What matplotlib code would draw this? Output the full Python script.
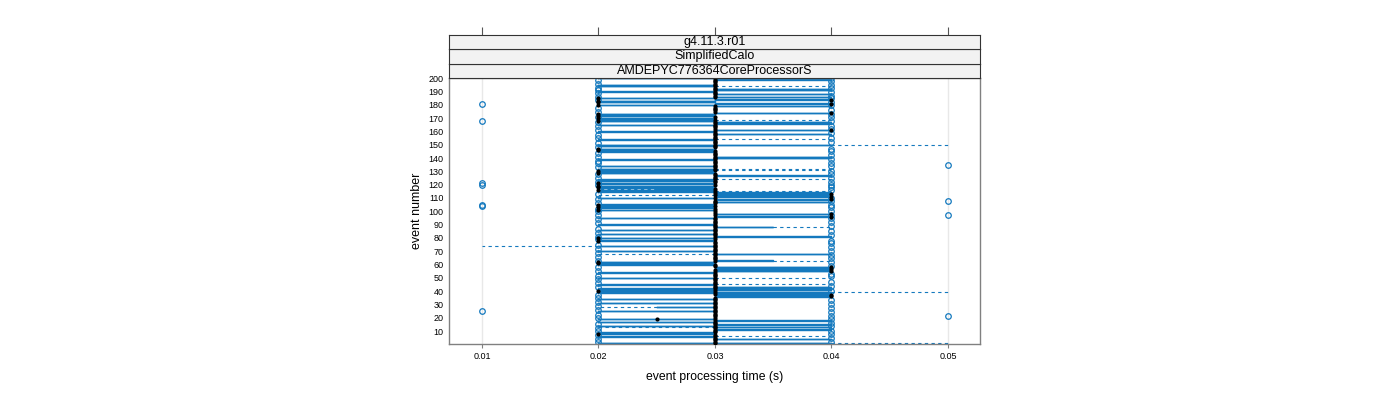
import matplotlib
matplotlib.use('Agg')
import matplotlib.pyplot as plt
import numpy as np

plt.rcParams['font.family'] = ['Liberation Sans', 'DejaVu Sans']

# per-event box summaries, in ms (event number = index + 1)
q1_ms = [
    20, 30, 30, 30, 30, 20, 30, 20, 20, 30,  30, 30, 30, 20, 30, 30, 20, 30, 20, 30,
    30, 30, 30, 30, 20, 30, 30, 25, 30, 30,  20, 30, 30, 20, 30, 30, 30, 30, 20, 20,
    20, 20, 30, 30, 20, 30, 30, 30, 30, 20,  30, 30, 30, 20, 30, 30, 30, 30, 30, 20,
    20, 20, 30, 30, 30, 30, 30, 30, 30, 20,  30, 30, 30, 20, 30, 30, 30, 20, 30, 20,
    30, 30, 20, 30, 30, 20, 30, 30, 30, 20,  30, 30, 30, 30, 20, 30, 30, 30, 30, 30,
    20, 30, 20, 20, 20, 30, 30, 30, 30, 20,  30, 30, 30, 30, 20, 20, 25, 20, 20, 30,
    20, 30, 20, 20, 30, 30, 30, 30, 20, 20,  20, 20, 30, 20, 30, 30, 30, 30, 20, 30,
    30, 30, 30, 30, 20, 20, 20, 30, 20, 20,  30, 30, 30, 20, 30, 30, 30, 30, 30, 20,
    30, 30, 30, 30, 20, 30, 30, 20, 20, 20,  30, 20, 20, 30, 30, 30, 30, 30, 30, 20,
    30, 20, 20, 30, 20, 30, 30, 30, 30, 20,  30, 30, 30, 20, 20, 30, 30, 30, 30, 20,
]
med_ms = [
    30, 30, 30, 30, 30, 30, 30, 20, 30, 30,  30, 30, 30, 30, 30, 30, 30, 30, 25, 30,
    30, 30, 30, 30, 30, 30, 30, 30, 30, 30,  30, 30, 30, 30, 30, 40, 40, 30, 30, 20,
    30, 30, 30, 30, 30, 30, 30, 30, 30, 30,  30, 30, 30, 30, 40, 30, 40, 40, 30, 30,
    20, 20, 30, 30, 30, 30, 30, 30, 30, 30,  30, 30, 30, 30, 30, 30, 30, 20, 30, 20,
    30, 30, 30, 30, 30, 30, 30, 30, 30, 30,  30, 30, 30, 30, 30, 40, 30, 40, 30, 30,
    20, 30, 20, 30, 20, 30, 30, 30, 40, 30,  40, 30, 40, 30, 30, 20, 30, 20, 20, 30,
    20, 30, 30, 30, 30, 30, 30, 30, 20, 20,  30, 30, 30, 30, 30, 30, 30, 30, 30, 30,
    30, 30, 30, 30, 30, 20, 20, 30, 30, 30,  30, 30, 30, 30, 30, 30, 30, 30, 30, 30,
    40, 30, 30, 30, 30, 30, 30, 20, 30, 20,  30, 20, 20, 40, 30, 30, 30, 30, 30, 20,
    40, 20, 20, 40, 20, 30, 30, 30, 30, 30,  30, 30, 30, 30, 30, 30, 30, 30, 30, 30,
]
q3_ms = [
    40, 30, 30, 40, 30, 30, 30, 30, 30, 30,  40, 30, 40, 30, 40, 30, 30, 40, 30, 30,
    30, 30, 30, 30, 30, 30, 30, 30, 30, 30,  30, 30, 30, 30, 30, 40, 40, 40, 40, 30,
    40, 40, 40, 30, 30, 30, 30, 30, 30, 30,  30, 30, 30, 30, 40, 40, 40, 40, 30, 30,
    30, 30, 35, 30, 30, 30, 30, 40, 30, 30,  30, 30, 30, 30, 30, 30, 30, 30, 30, 30,
    40, 30, 30, 30, 30, 30, 30, 35, 30, 30,  30, 30, 30, 30, 30, 40, 30, 40, 30, 30,
    30, 30, 30, 30, 30, 30, 40, 30, 40, 30,  40, 40, 40, 40, 30, 30, 30, 30, 30, 30,
    30, 30, 30, 30, 30, 30, 40, 30, 30, 30,  30, 30, 30, 30, 30, 30, 30, 30, 30, 40,
    40, 30, 30, 30, 30, 30, 30, 30, 30, 40,  30, 30, 30, 30, 30, 30, 30, 40, 30, 30,
    40, 30, 30, 30, 30, 40, 40, 30, 30, 30,  30, 30, 30, 40, 30, 30, 30, 30, 40, 30,
    40, 30, 30, 40, 30, 40, 30, 40, 30, 30,  40, 40, 30, 30, 30, 30, 30, 30, 40, 30,
]
whis_lo_ms = [
    20, 30, 30, 30, 30, 20, 30, 20, 20, 30,  30, 30, 20, 20, 30, 30, 20, 30, 20, 30,
    30, 30, 30, 30, 20, 30, 30, 20, 30, 30,  20, 30, 30, 20, 30, 30, 30, 30, 20, 20,
    20, 20, 30, 30, 20, 30, 30, 30, 30, 20,  30, 30, 30, 20, 30, 30, 30, 30, 30, 20,
    20, 20, 30, 30, 30, 30, 30, 20, 30, 20,  30, 30, 30, 10, 30, 30, 30, 20, 30, 20,
    30, 30, 20, 30, 30, 20, 30, 30, 30, 20,  30, 30, 30, 30, 20, 30, 30, 30, 30, 30,
    20, 30, 20, 20, 20, 30, 30, 30, 30, 20,  30, 20, 30, 30, 20, 20, 20, 20, 20, 30,
    20, 30, 20, 20, 30, 30, 30, 30, 20, 20,  20, 20, 30, 20, 30, 30, 30, 30, 20, 30,
    30, 30, 30, 30, 20, 20, 20, 30, 20, 20,  30, 30, 30, 20, 30, 30, 30, 30, 30, 20,
    30, 30, 30, 30, 20, 30, 30, 20, 20, 20,  30, 20, 20, 30, 30, 30, 30, 30, 30, 20,
    30, 20, 20, 30, 20, 30, 30, 30, 30, 20,  30, 30, 30, 20, 20, 30, 30, 30, 30, 20,
]
whis_hi_ms = [
    50, 30, 30, 40, 30, 40, 30, 30, 30, 30,  40, 30, 40, 30, 40, 30, 30, 40, 30, 30,
    30, 30, 30, 30, 30, 30, 30, 30, 30, 30,  30, 30, 30, 30, 30, 40, 40, 40, 50, 30,
    40, 40, 40, 30, 40, 30, 30, 30, 30, 40,  30, 30, 30, 30, 40, 40, 40, 40, 30, 30,
    30, 30, 40, 30, 30, 30, 30, 40, 30, 30,  30, 30, 30, 30, 30, 30, 30, 30, 30, 30,
    40, 30, 30, 30, 30, 30, 30, 40, 30, 30,  30, 30, 30, 30, 30, 40, 30, 40, 30, 30,
    30, 30, 30, 30, 30, 30, 40, 30, 40, 30,  40, 40, 40, 40, 40, 30, 30, 30, 30, 30,
    30, 30, 30, 40, 30, 30, 40, 30, 30, 30,  40, 40, 30, 30, 30, 30, 30, 30, 30, 40,
    40, 30, 30, 30, 30, 30, 30, 30, 30, 50,  30, 30, 30, 40, 30, 30, 30, 40, 30, 30,
    40, 30, 30, 30, 30, 40, 40, 30, 40, 30,  30, 30, 30, 40, 30, 30, 30, 30, 40, 30,
    40, 30, 30, 40, 30, 40, 30, 40, 30, 30,  40, 40, 30, 40, 30, 30, 30, 30, 40, 30,
]
# low / high outlier per event (0 = none)
out_lo_ms = [
    0, 20, 0, 20, 0, 0, 20, 0, 0, 20,  0, 20, 0, 0, 20, 0, 0, 0, 0, 20,
    0, 20, 0, 0, 0, 20, 0, 0, 20, 0,  0, 20, 0, 0, 20, 0, 20, 0, 0, 0,
    0, 0, 20, 0, 0, 20, 0, 0, 20, 0,  20, 0, 0, 0, 20, 0, 0, 20, 0, 0,
    0, 0, 20, 0, 0, 20, 0, 0, 20, 0,  0, 20, 0, 0, 20, 0, 0, 0, 20, 0,
    20, 0, 0, 20, 0, 0, 20, 0, 0, 0,  20, 0, 0, 20, 0, 0, 20, 0, 0, 20,
    0, 20, 0, 0, 0, 20, 0, 0, 20, 0,  0, 0, 20, 0, 0, 0, 0, 0, 0, 20,
    0, 20, 0, 0, 20, 0, 0, 20, 0, 0,  0, 0, 20, 0, 0, 20, 0, 20, 0, 0,
    20, 0, 0, 20, 0, 0, 0, 20, 0, 0,  20, 0, 0, 0, 20, 0, 20, 0, 0, 0,
    20, 0, 0, 20, 0, 0, 20, 0, 0, 0,  20, 0, 0, 0, 20, 0, 0, 20, 0, 0,
    0, 0, 0, 20, 0, 20, 0, 0, 20, 0,  20, 0, 20, 0, 0, 20, 0, 0, 20, 0,
]
out_hi_ms = [
    0, 40, 0, 0, 40, 0, 0, 40, 0, 40,  0, 0, 0, 40, 0, 40, 0, 0, 40, 0,
    40, 0, 0, 40, 0, 0, 40, 0, 0, 40,  0, 0, 40, 0, 0, 0, 0, 0, 0, 40,
    0, 0, 0, 40, 0, 0, 40, 0, 0, 0,  40, 0, 40, 0, 0, 0, 0, 0, 40, 0,
    0, 40, 0, 0, 40, 0, 40, 0, 0, 40,  0, 0, 40, 0, 0, 40, 0, 40, 0, 0,
    0, 40, 0, 0, 40, 0, 0, 0, 40, 0,  0, 40, 0, 0, 40, 0, 40, 0, 0, 40,
    0, 0, 40, 0, 40, 0, 0, 40, 0, 40,  0, 0, 0, 0, 0, 40, 0, 40, 0, 40,
    0, 40, 0, 0, 40, 0, 0, 40, 0, 40,  0, 0, 0, 40, 0, 40, 0, 0, 40, 0,
    0, 40, 0, 0, 40, 0, 40, 0, 0, 0,  0, 40, 0, 0, 40, 0, 0, 0, 40, 0,
    0, 40, 0, 40, 0, 0, 0, 40, 0, 0,  40, 0, 40, 0, 0, 40, 0, 0, 0, 40,
    0, 40, 0, 0, 40, 0, 40, 0, 0, 40,  0, 0, 40, 0, 40, 0, 0, 40, 0, 40,
]
# far outliers
far_out_event = [25, 104, 105, 120, 121, 168, 181, 21, 97, 108, 135]
far_out_ms = [10, 10, 10, 10, 10, 10, 10, 50, 50, 50, 50]

strip_labels = ['AMDEPYC776364CoreProcessorS', 'SimplifiedCalo', 'g4.11.3.r01']
x_ticks = [0.01, 0.02, 0.03, 0.04, 0.05]
y_ticks = list(range(10, 201, 10))

blue = '#1479be'

events = np.arange(1, len(q1_ms) + 1)
stats = []
for i, ev in enumerate(events):
    fl = [v for v in (out_lo_ms[i], out_hi_ms[i]) if v > 0]
    fl += [t for e, t in zip(far_out_event, far_out_ms) if e == ev]
    stats.append({
        'q1': q1_ms[i] / 1000, 'med': med_ms[i] / 1000, 'q3': q3_ms[i] / 1000,
        'whislo': whis_lo_ms[i] / 1000, 'whishi': whis_hi_ms[i] / 1000,
        'fliers': np.array(fl) / 1000,
    })

fig = plt.figure(figsize=(14, 4), dpi=100)
ax = fig.add_axes([449 / 1400, 56 / 400, 531 / 1400, 266 / 400])

for xt in x_ticks:
    ax.axvline(xt, color='#e8e8e8', lw=1, zorder=0)

ax.bxp(stats, positions=events, widths=0.3, orientation='horizontal',
       showcaps=False, patch_artist=False, manage_ticks=False,
       boxprops=dict(color=blue, lw=1.0),
       whiskerprops=dict(color=blue, lw=0.8, linestyle=(0, (3, 3))),
       medianprops=dict(lw=0),
       flierprops=dict(marker='o', markersize=4, markerfacecolor='none',
                       markeredgecolor=blue, markeredgewidth=0.9))
ax.scatter(np.array(med_ms) / 1000, events, s=9, color='black', zorder=5, lw=0)

ax.set_xlim(0.00717, 0.05275)
ax.set_ylim(0.25, 200.2)
ax.set_xticks(x_ticks)
ax.set_xticklabels([str(v) for v in x_ticks], fontsize=6.5)
ax.set_yticks(y_ticks)
ax.set_yticklabels([str(v) for v in y_ticks], fontsize=6.5)
ax.tick_params(axis='y', length=0, pad=4)
ax.tick_params(axis='x', length=3, width=0.8, color='#808080', pad=3)
for s in ax.spines.values():
    s.set_color('#808080')
    s.set_linewidth(1)
ax.set_xlabel('event processing time (s)', fontsize=8.8, labelpad=7)
ax.set_ylabel('event number', fontsize=9, labelpad=4)

# strips on top of the panel
sh = 43 / 3 / 400
for i, lab in enumerate(strip_labels):
    sax = fig.add_axes([449 / 1400, 322 / 400 + i * sh, 531 / 1400, sh])
    sax.set_facecolor('#f2f2f2')
    sax.set_xlim(ax.get_xlim())
    sax.set_yticks([])
    sax.text(0.5, 0.5, lab, transform=sax.transAxes, ha='center', va='center', fontsize=9)
    for s in sax.spines.values():
        s.set_color('#333333')
        s.set_linewidth(0.8)
    if i == len(strip_labels) - 1:
        sax.set_xticks(x_ticks)
        sax.xaxis.tick_top()
        sax.tick_params(axis='x', length=6, width=0.8, color='#555555', labeltop=False)
    else:
        sax.set_xticks([])

fig.savefig('out.png', dpi=100)
